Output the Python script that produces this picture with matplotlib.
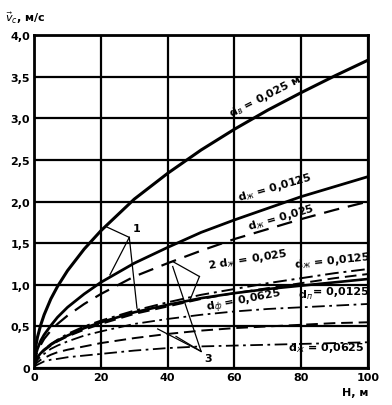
import matplotlib.pyplot as plt
import numpy as np

# H, м
H = [0, 0.5, 1, 2, 3, 5, 7, 10, 15, 20, 30, 40, 50, 60, 70, 80, 90, 100]

# скорость v_c, м/с
v_dv_025 = [0, 0.26, 0.37, 0.52, 0.64, 0.83, 0.98, 1.17, 1.43, 1.65, 2.03, 2.34, 2.62, 2.87, 3.10, 3.31, 3.51, 3.70]
v_dj_0125 = [0, 0.16, 0.23, 0.33, 0.40, 0.51, 0.61, 0.73, 0.89, 1.03, 1.26, 1.45, 1.63, 1.78, 1.92, 2.06, 2.18, 2.30]
v_dj_025 = [0, 0.14, 0.20, 0.28, 0.35, 0.45, 0.53, 0.63, 0.77, 0.89, 1.10, 1.26, 1.41, 1.55, 1.67, 1.79, 1.90, 2.00]
v_2dj_025 = [0, 0.09, 0.13, 0.18, 0.22, 0.29, 0.34, 0.41, 0.50, 0.57, 0.69, 0.79, 0.88, 0.95, 1.02, 1.08, 1.14, 1.19]
v_dj2_0125 = [0, 0.08, 0.12, 0.17, 0.21, 0.27, 0.32, 0.38, 0.46, 0.53, 0.65, 0.74, 0.83, 0.90, 0.96, 1.02, 1.08, 1.13]
v_dp_0125 = [0, 0.09, 0.13, 0.18, 0.22, 0.28, 0.33, 0.39, 0.48, 0.55, 0.67, 0.76, 0.84, 0.90, 0.95, 0.99, 1.03, 1.07]
v_df_0625 = [0, 0.07, 0.10, 0.14, 0.17, 0.23, 0.27, 0.32, 0.39, 0.44, 0.53, 0.59, 0.64, 0.68, 0.71, 0.73, 0.75, 0.77]
v_dash_low = [0, 0.05, 0.07, 0.10, 0.12, 0.16, 0.19, 0.22, 0.26, 0.30, 0.36, 0.41, 0.45, 0.48, 0.50, 0.52, 0.54, 0.55]
v_dj_0625 = [0, 0.03, 0.04, 0.06, 0.08, 0.10, 0.11, 0.13, 0.15, 0.17, 0.21, 0.24, 0.26, 0.27, 0.28, 0.29, 0.30, 0.31]

x_ticks = [0, 20, 40, 60, 80, 100]
y_ticks = [0, 0.5, 1.0, 1.5, 2.0, 2.5, 3.0, 3.5, 4.0]
y_ticklabels = ["0", "0,5", "1,0", "1,5", "2,0", "2,5", "3,0", "3,5", "4,0"]

# выноски 1, 2, 3
lead1 = [[(28.5, 1.57), (21.5, 1.70)], [(28.5, 1.57), (22.7, 1.12)], [(28.5, 1.57), (30.8, 0.72)]]
lead2 = [[(49.5, 1.10), (41.5, 1.28)], [(49.5, 1.10), (46.5, 0.80)]]
lead3 = [[(50.0, 0.20), (41.5, 1.22)], [(50.0, 0.20), (42.5, 0.38)], [(50.0, 0.20), (37.0, 0.47)]]

plt.rcParams['font.family'] = ['DejaVu Sans']
fig = plt.figure(figsize=(3.92, 4.06), dpi=100)
ax = fig.add_axes([0.087, 0.091, 0.852, 0.820])

dashdot = (0, (7, 2.5, 1.5, 2.5))
ax.plot(H, v_dv_025, color='k', lw=2.2)
ax.plot(H, v_dj_0125, color='k', lw=2.0)
ax.plot(H, v_dj_025, color='k', lw=1.6, linestyle=(0, (7, 4)))
ax.plot(H, v_2dj_025, color='k', lw=1.4, linestyle=dashdot)
ax.plot(H, v_dj2_0125, color='k', lw=1.4, linestyle=(0, (6, 3)))
ax.plot(H, v_dp_0125, color='k', lw=1.9)
ax.plot(H, v_df_0625, color='k', lw=1.3, linestyle=dashdot)
ax.plot(H, v_dash_low, color='k', lw=1.4, linestyle=(0, (6, 3)))
ax.plot(H, v_dj_0625, color='k', lw=1.3, linestyle=dashdot)

for group in (lead1, lead2, lead3):
    for seg in group:
        xs, ys = zip(*seg)
        ax.plot(xs, ys, color='k', lw=0.9)

ax.set_xlim(0, 100)
ax.set_ylim(0, 4.0)
ax.set_xticks(x_ticks)
ax.set_xticklabels([str(t) for t in x_ticks], fontsize=8, fontweight='bold')
ax.set_yticks(y_ticks)
ax.set_yticklabels(y_ticklabels, fontsize=8, fontweight='bold')
ax.tick_params(length=0, pad=3)
ax.grid(True, color='k', lw=1.6)
for s in ax.spines.values():
    s.set_linewidth(2)

kw = dict(fontsize=8, fontweight='bold', ha='left', va='bottom', rotation_mode='anchor')
ax.text(59.5, 2.98, "d$_в$ = 0,025 м", rotation=27, **kw)
ax.text(61.5, 1.97, "d$_ж$ = 0,0125", rotation=16, **kw)
ax.text(64.5, 1.62, "d$_ж$ = 0,025", rotation=16, **kw)
ax.text(52.5, 1.16, "2 d$_ж$ = 0,025", rotation=9, **kw)
ax.text(78.0, 1.17, "d$_ж$ = 0,0125", rotation=6, **kw)
ax.text(52.0, 0.62, "d$_ф$ = 0,0625", rotation=11, **kw)
ax.text(79.0, 0.80, "d$_п$", rotation=0, **kw)
ax.text(83.5, 0.87, "= 0,0125", rotation=0, **kw)
ax.text(76.0, 0.17, "d$_ж$ = 0,0625", rotation=0, **kw)
ax.text(29.5, 1.62, "1", **kw)
ax.text(51.0, 0.06, "3", **kw)

fig.text(0.012, 0.947, "$\\vec{v}_c$, м/с", fontsize=8, fontweight='bold')
fig.text(0.939, 0.025, "H, м", fontsize=8, fontweight='bold', ha='right')

fig.savefig("out.png", dpi=100)
